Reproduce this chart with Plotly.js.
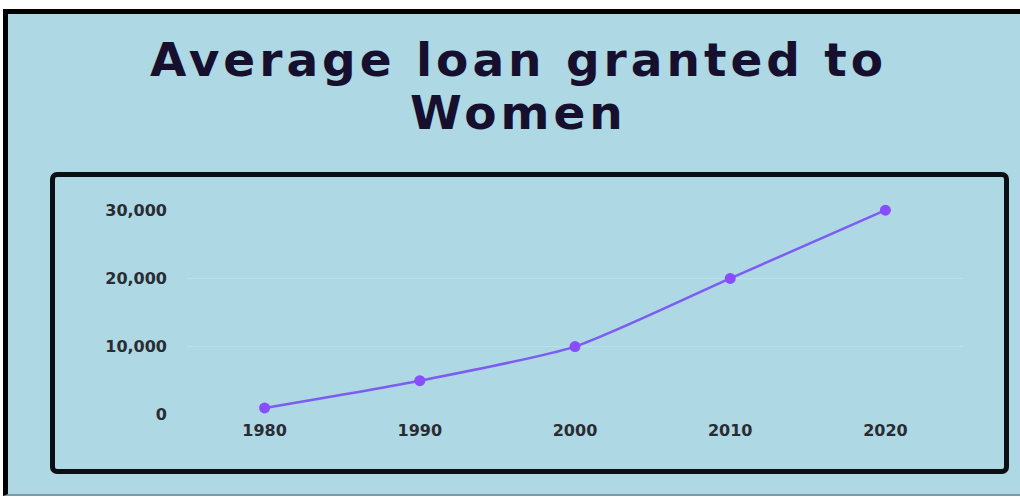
<!DOCTYPE html>
<html>
<head>
<meta charset="utf-8">
<script src="https://cdn.plot.ly/plotly-3.0.1.min.js"></script>
<style>
  html, body { margin:0; padding:0; width:1020px; height:497px; background:#ffffff; overflow:hidden; }
  #frame { position:absolute; left:3px; top:9px; width:1030px; height:480px;
           background:#add8e4; border-top:5px solid #000; border-left:5px solid #000;
           border-bottom:2px solid #7a9aa6; }
  #inner { position:absolute; left:50px; top:172px; width:949px; height:292px;
           border:5px solid #0a0f14; border-radius:7px; }
  #chart { position:absolute; left:0; top:0; width:1020px; height:497px; }
  #chart .annotation-text { letter-spacing: 4px; }
</style>
</head>
<body>
<div id="frame"></div>
<div id="inner"></div>
<div id="chart"></div>
<script>
const years = [1980, 1990, 2000, 2010, 2020];
const loans = [1000, 5000, 10000, 20000, 30000];
const yTicks = [0, 10000, 20000, 30000];
const yTickText = ['0', '10,000', '20,000', '30,000'];
const titleLines = ['Average loan granted to', 'Women'];

const trace = {
  x: years, y: loans, type: 'scatter', mode: 'lines+markers',
  line: { color: '#7d5cf2', width: 2.5, shape: 'spline', smoothing: 0.6 },
  marker: { color: '#8a4cff', size: 11 },
  cliponaxis: false, hoverinfo: 'skip'
};

const titleFont = { family: 'DejaVu Sans', size: 47, color: '#160f2e', weight: 'bold' };
const tickFont = { family: 'DejaVu Sans', size: 16, color: '#2b2b33', weight: 'bold' };

const layout = {
  width: 1020, height: 497,
  paper_bgcolor: 'rgba(0,0,0,0)', plot_bgcolor: 'rgba(0,0,0,0)',
  margin: { l: 187, r: 57, t: 210, b: 82 },
  showlegend: false,
  annotations: [
    { text: titleLines[0], xref: 'paper', yref: 'paper', x: 0.4272, y: 1.732,
      xanchor: 'center', yanchor: 'middle', showarrow: false, font: titleFont },
    { text: titleLines[1], xref: 'paper', yref: 'paper', x: 0.4272, y: 1.478,
      xanchor: 'center', yanchor: 'middle', showarrow: false, font: titleFont }
  ],
  xaxis: { range: [1975, 2025], tickvals: years, ticktext: years.map(String),
           showgrid: false, zeroline: false, showline: false, ticks: '',
           ticklabelstandoff: 4, tickfont: tickFont },
  yaxis: { range: [-30, 30030], tickvals: yTicks, ticktext: yTickText,
           showgrid: true, gridcolor: '#bcdfea', gridwidth: 1, zeroline: false, showline: false,
           ticks: '', ticklabelstandoff: 19, tickfont: tickFont }
};

Plotly.newPlot('chart', [trace], layout, { displayModeBar: false, staticPlot: true });
</script>
</body>
</html>
